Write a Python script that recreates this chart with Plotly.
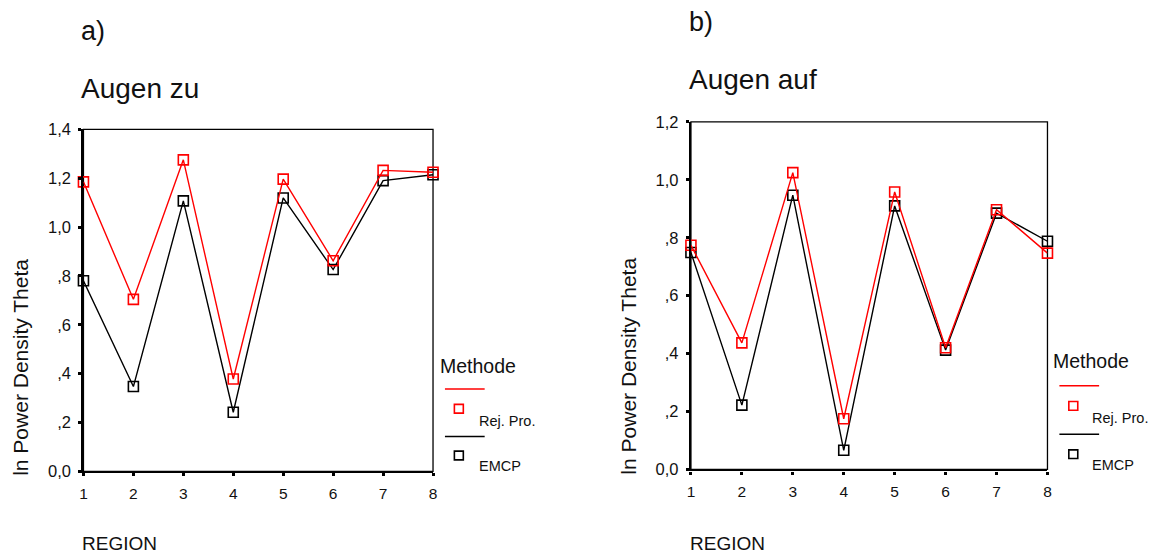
import plotly.graph_objects as go

W, H = 1163, 560

# Region numbers on the x axis
regions = [1, 2, 3, 4, 5, 6, 7, 8]

# Panel a) Augen zu
zu_rej = [1.185, 0.704, 1.275, 0.378, 1.196, 0.862, 1.232, 1.224]
zu_emcp = [0.780, 0.347, 1.107, 0.242, 1.119, 0.826, 1.190, 1.214]

# Panel b) Augen auf
auf_rej = [0.774, 0.437, 1.025, 0.175, 0.958, 0.420, 0.897, 0.747]
auf_emcp = [0.749, 0.222, 0.947, 0.066, 0.910, 0.412, 0.885, 0.788]

yticks_zu = [0.0, 0.2, 0.4, 0.6, 0.8, 1.0, 1.2, 1.4]
yticklabels_zu = ["0,0", ",2", ",4", ",6", ",8", "1,0", "1,2", "1,4"]
yticks_auf = [0.0, 0.2, 0.4, 0.6, 0.8, 1.0, 1.2]
yticklabels_auf = ["0,0", ",2", ",4", ",6", ",8", "1,0", "1,2"]

series_colors = {"EMCP": "#000000", "Rej. Pro.": "#ff0000"}

FONT = "Liberation Sans, Arial, sans-serif"
TXT = "#111111"


def px(x):
    return x / W


def py(y):
    return 1 - y / H


fig = go.Figure()

# traces: EMCP below, Rej. Pro. on top
for xa, ya, emcp, rej in [("x", "y", zu_emcp, zu_rej), ("x2", "y2", auf_emcp, auf_rej)]:
    for name, vals in (("EMCP", emcp), ("Rej. Pro.", rej)):
        fig.add_trace(go.Scatter(
            x=regions, y=vals, xaxis=xa, yaxis=ya, name=name,
            mode="lines+markers", cliponaxis=False, showlegend=False,
            line=dict(color=series_colors[name], width=1.4),
            marker=dict(symbol="square-open", size=10,
                        color=series_colors[name], line=dict(width=1.6)),
        ))

# panel boxes in pixels: left, top, right, bottom
box_a = (80, 124.3, 432, 477.7)
box_b = (691.7, 116.7, 1050.7, 475.7)


def xaxis_cfg(box, anchor):
    return dict(domain=[px(box[0]), px(box[2])], range=[1, 8], anchor=anchor,
                tickmode="array", tickvals=regions, ticktext=[str(r) for r in regions],
                showgrid=False, zeroline=False, showline=True, linecolor="#000",
                linewidth=2.2, ticks="outside", ticklen=3, tickwidth=3,
                ticklabelstandoff=4,
                tickcolor="#000", tickfont=dict(family=FONT, size=15.5, color=TXT),
                fixedrange=True)


def yaxis_cfg(box, anchor, top, tv, tt):
    return dict(domain=[py(box[3]), py(box[1])], range=[0, top], anchor=anchor,
                tickmode="array", tickvals=tv, ticktext=tt,
                showgrid=False, zeroline=False, showline=True, linecolor="#000",
                linewidth=2.2, ticks="outside", ticklen=3, tickwidth=3,
                ticklabelstandoff=4,
                tickcolor="#000", tickfont=dict(family=FONT, size=16.5, color=TXT),
                fixedrange=True)


shapes = []
annotations = []

for box in (box_a, box_b):
    shapes.append(dict(type="rect", xref="paper", yref="paper",
                       x0=px(box[0]), x1=px(box[2]), y0=py(box[3]), y1=py(box[1]),
                       line=dict(color="#000", width=1.3), layer="below"))


def text(x, y, s, size, xanchor="left", yanchor="middle", angle=0):
    annotations.append(dict(x=px(x), y=py(y), xref="paper", yref="paper", text=s,
                            showarrow=False, xanchor=xanchor, yanchor=yanchor,
                            textangle=angle, font=dict(family=FONT, size=size, color=TXT)))


# panel labels and titles
text(76, 23, "a)", 27)
text(76, 82, "Augen zu", 28)
text(688, 13, "b)", 27)
text(688, 73, "Augen auf", 28)

# axis titles
text(17, 484, "ln Power Density Theta", 21, xanchor="center", yanchor="bottom", angle=-90)
text(629, 483, "ln Power Density Theta", 21, xanchor="center", yanchor="bottom", angle=-90)
text(77, 552, "REGION", 19)
text(689, 552, "REGION", 19)

# legends drawn beside each panel
legends = [
    dict(x=437, title_y=369, line_x=(444, 484), rows=[(392.7, 413, 426), (441.7, 461.3, 472)], mx=458, tx=476),
    dict(x=1054, title_y=364, line_x=(1062.7, 1102.7), rows=[(389.3, 410, 423), (439.3, 460, 471)], mx=1076.7, tx=1094),
]
for lg in legends:
    text(lg["x"], lg["title_y"], "Methode", 19.5)
    for (ly, my, ty), name in zip(lg["rows"], ["Rej. Pro.", "EMCP"]):
        c = series_colors[name]
        shapes.append(dict(type="line", xref="paper", yref="paper",
                           x0=px(lg["line_x"][0]), x1=px(lg["line_x"][1]),
                           y0=py(ly), y1=py(ly), line=dict(color=c, width=1.5)))
        shapes.append(dict(type="rect", xref="paper", yref="paper",
                           x0=px(lg["mx"] - 4.5), x1=px(lg["mx"] + 4.5),
                           y0=py(my + 4.5), y1=py(my - 4.5), line=dict(color=c, width=1.6)))
        text(lg["tx"], ty, name, 14.5)

fig.update_layout(
    width=W, height=H, margin=dict(l=0, r=0, t=0, b=0),
    paper_bgcolor="white", plot_bgcolor="white", showlegend=False,
    xaxis=xaxis_cfg(box_a, "y"),
    yaxis=yaxis_cfg(box_a, "x", 1.4, yticks_zu, yticklabels_zu),
    xaxis2=xaxis_cfg(box_b, "y2"),
    yaxis2=yaxis_cfg(box_b, "x2", 1.2, yticks_auf, yticklabels_auf),
    shapes=shapes, annotations=annotations,
)

fig.write_html("out.html", config={"displayModeBar": False})
